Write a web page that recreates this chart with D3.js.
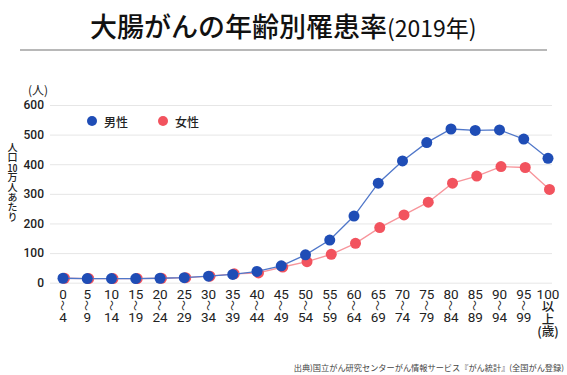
<!DOCTYPE html>
<html>
<head>
<meta charset="utf-8">
<script src="https://cdn.jsdelivr.net/npm/d3@7"></script>
<style>
  body { margin: 0; background: #fff; }
  #chart { position: relative; width: 567px; height: 375px; }
  svg { font-family: "Noto Sans CJK JP", "Noto Sans", sans-serif; }
  .vlabel {
    position: absolute;
    left: 6px;
    top: 142px;
    writing-mode: vertical-rl;
    text-orientation: upright;
    font-family: "Noto Sans CJK JP", sans-serif;
    font-size: 10px;
    font-weight: 500;
    line-height: 12px;
    color: #222;
  }
  .vlabel .tcy { text-combine-upright: all; }
</style>
</head>
<body>
<div id="chart"></div>
<script>
// data
const ageFrom = ["0", "5", "10", "15", "20", "25", "30", "35", "40", "45", "50",
  "55", "60", "65", "70", "75", "80", "85", "90", "95", "100"];
const ageTo = ["4", "9", "14", "19", "24", "29", "34", "39", "44", "49", "54",
  "59", "64", "69", "74", "79", "84", "89", "94", "99", ""];
const lastLabel = ["100", "以", "上", "(歳)"];
const male = [15, 14, 14, 14, 15, 17, 22, 28, 38, 57, 94,
  144, 225, 336, 411, 473, 519, 514, 516, 485, 420];
const female = [15, 14, 14, 14, 15, 17, 22, 30, 33, 53, 71,
  96, 133, 186, 229, 272, 336, 360, 392, 389, 315];
const yTicks = [0, 100, 200, 300, 400, 500, 600];
const series = [
  { name: "男性", values: male, dot: "#1f4db6", line: "#5077c9" },
  { name: "女性", values: female, dot: "#f2535e", line: "#f7959b" }
];

//size
const width = 567;
const height = 375;

const container = d3.select("#chart");
const svg = container
  .append("svg")
  .attr("width", width)
  .attr("height", height);

//title
const title = svg.append("text")
  .attr("x", 90)
  .attr("y", 37)
  .attr("fill", "#111");
title.append("tspan").attr("font-size", 27).attr("font-weight", 500).text("大腸がんの年齢別罹患率");
title.append("tspan").attr("font-size", 23).attr("font-weight", 400).text("(2019年)");

svg.append("line")
  .attr("x1", 20).attr("x2", 547)
  .attr("y1", 50).attr("y2", 50)
  .attr("stroke", "#a0a0a0")
  .attr("stroke-width", 1.5);

//scales
const xScale = d3.scalePoint()
  .domain(ageFrom)
  .range([63, 548]);

const yScale = d3.scaleLinear()
  .domain([0, 600])
  .range([282.7, 105]);

//grid + y labels
svg.append("g")
  .attr("transform", "translate(50,0)")
  .call(d3.axisLeft(yScale).tickValues(yTicks).tickSize(-502).tickPadding(6))
  .call((g) => {
    g.select(".domain").remove();
    g.selectAll(".tick line").attr("stroke", "#e6e6e6");
    g.selectAll(".tick text")
      .attr("font-size", 12)
      .attr("font-weight", 500)
      .attr("fill", "#222")
      .attr("font-family", "Roboto, 'Noto Sans', sans-serif");
  });

svg.append("text")
  .attr("x", 38).attr("y", 95)
  .attr("text-anchor", "middle")
  .attr("font-size", 12)
  .attr("fill", "#222")
  .text("(人)");

//vertical label
const vlabel = container.append("div").attr("class", "vlabel");
vlabel.append("span").text("人口");
vlabel.append("span").attr("class", "tcy").text("10");
vlabel.append("span").text("万人あたり");

//x labels
const xg = svg.append("g")
  .attr("fill", "#222")
  .attr("font-family", "Roboto, 'Noto Sans', sans-serif");

const ranged = ageFrom.filter((d, i) => ageTo[i] !== "");

xg.selectAll(".from")
  .data(ranged)
  .join("text")
  .attr("class", "from")
  .attr("x", (d) => xScale(d))
  .attr("y", 299)
  .attr("text-anchor", "middle")
  .attr("font-size", 13.5)
  .text((d) => d);

xg.selectAll(".wave")
  .data(ranged)
  .join("text")
  .attr("class", "wave")
  .attr("transform", (d) => `translate(${xScale(d)},305.5) rotate(90)`)
  .attr("text-anchor", "middle")
  .attr("dominant-baseline", "central")
  .attr("font-size", 11)
  .attr("font-family", "'Noto Sans CJK JP'")
  .text("〜");

xg.selectAll(".to")
  .data(ranged)
  .join("text")
  .attr("class", "to")
  .attr("x", (d) => xScale(d))
  .attr("y", 322)
  .attr("text-anchor", "middle")
  .attr("font-size", 13.5)
  .text((d) => ageTo[ageFrom.indexOf(d)]);

// last column: 100 / 以 / 上 / (歳) in one text
const lastX = xScale(ageFrom[ageFrom.length - 1]);
xg.append("text")
  .attr("text-anchor", "middle")
  .selectAll("tspan")
  .data(lastLabel)
  .join("tspan")
  .attr("x", lastX)
  .attr("y", (d, i) => (i == 0 ? 299 : 298.5 + i * 12.5))
  .attr("font-size", (d, i) => (i == 0 ? 13.5 : 12.5))
  .attr("font-family", (d, i) => (i == 0 ? null : "'Noto Sans CJK JP'"))
  .attr("font-weight", (d, i) => (i == 0 ? null : 500))
  .text((d) => d);

//lines and dots (female under male)
const offset = { "男性": 0, "女性": 1.5 };
const line = (s) => d3.line()
  .x((d, i) => xScale(ageFrom[i]) + offset[s.name])
  .y((d) => yScale(d));

series.slice().reverse().forEach((s) => {
  const g = svg.append("g");
  g.append("path")
    .datum(s.values)
    .attr("fill", "none")
    .attr("stroke", s.line)
    .attr("stroke-width", 1.3)
    .attr("d", line(s));
  g.selectAll("circle")
    .data(s.values)
    .join("circle")
    .attr("cx", (d, i) => xScale(ageFrom[i]) + offset[s.name])
    .attr("cy", (d) => yScale(d))
    .attr("r", 5.5)
    .attr("fill", s.dot);
});

//legend
const legend = svg.append("g")
  .selectAll("g")
  .data(series)
  .join("g")
  .attr("transform", (d, i) => `translate(${92 + i * 71},121)`);
legend.append("circle").attr("r", 5).attr("fill", (d) => d.dot);
legend.append("text")
  .attr("x", 12)
  .attr("dominant-baseline", "central")
  .attr("font-size", 12)
  .attr("font-weight", 500)
  .attr("fill", "#222")
  .text((d) => d.name);

//source
svg.append("text")
  .attr("x", 564)
  .attr("y", 371)
  .attr("text-anchor", "end")
  .attr("font-size", 8.2)
  .attr("fill", "#444")
  .text("出典)国立がん研究センターがん情報サービス『がん統計』(全国がん登録)");
</script>
</body>
</html>
